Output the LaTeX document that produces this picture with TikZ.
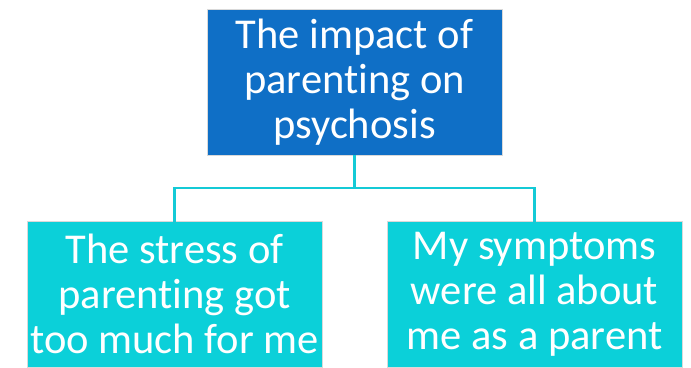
\documentclass[tikz,border=0pt]{standalone}
\usepackage{fontspec}
\setmainfont[Ligatures={NoCommon}]{Carlito}
\newcommand\nolig{\kern0pt{}}
\definecolor{topblue}{HTML}{0F6FC6}
\definecolor{leafcyan}{HTML}{0BD0D9}
\definecolor{linecyan}{HTML}{14CAD6}
\begin{document}
\begin{tikzpicture}[x=1pt,y=-1pt,
  box/.style={draw=white!85!black, line width=0.6pt, minimum width=295pt, minimum height=146pt,
    inner sep=0pt, align=center, text=white,
    font=\fontsize{42.5}{45}\selectfont},
  link/.style={draw=linecyan, line width=2.6pt}]
\useasboundingbox (0,0) rectangle (691,367);
\node[box, fill=topblue] (top) at (354.5,82) {The impact of\\parent\nolig ing on\\psychosis};
\node[box, fill=leafcyan] (left) at (174.5,294) {The stress of\\parent\nolig ing got\\too much for me};
\node[box, fill=leafcyan] (right) at (534.5,294) {My symptoms\\were all about\\me as a parent};
\coordinate (mid) at (354.5,188);
\draw[link] (top.south) -- (mid);
\draw[link] ([yshift=-3pt]left.north) |- (mid) -| ([yshift=-3pt]right.north);
\end{tikzpicture}
\end{document}
